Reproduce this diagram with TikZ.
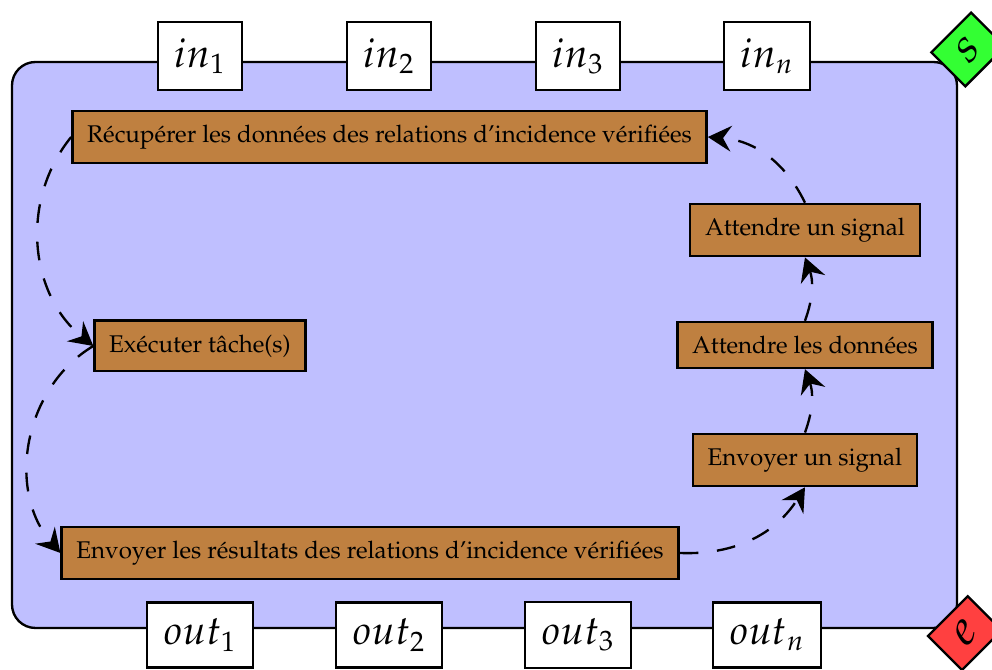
\documentclass[tikz,border=0pt]{standalone}
\usepackage[T1]{fontenc}
\usepackage{mathpazo}
\usepackage{tikz}
\usetikzlibrary{arrows.meta,positioning}

\begin{document}
\begin{tikzpicture}[>={Stealth[length=10pt,width=11pt,inset=3.5pt]},node distance=0.95cm,
	tache/.style={draw,line width=1pt,fill=brown,inner xsep=6.3pt,inner ysep=6pt,font=\fontsize{10.3}{12}\selectfont},
	port/.style={draw,line width=1pt,fill=white,inner sep=7pt,font=\LARGE},
	etat/.style={draw,line width=1pt,rotate=45,minimum width=24pt,minimum height=20.5pt,inner sep=0pt,font=\huge},
	flot/.style={->,line width=1pt,dash pattern=on 8pt off 8pt}]
		\useasboundingbox (0,0) rectangle (14.88,10.05);
		\node[draw,line width=1pt,fill=blue!25,rounded corners=10pt,minimum width=14.175cm,minimum height=8.49cm] (cadre) at (7.2675,4.875) {};
		\node[etat,fill=green!80] (s) at ([shift={(0.15,0.17)}]cadre.north east) {$s$};
		\node[etat,fill=red!75] (e) at ([shift={(0.1,-0.06)}]cadre.south east) {$e$};
		% entrees
		\node[port] (in_1) at (3.0,9.21) {$in_1$};
		\node[port] (in_2) at (5.835,9.21) {$in_2$};
		\node[port] (in_3) at (8.67,9.21) {$in_3$};
		\node[port] (in_n) at (11.505,9.21) {$in_n$};
		% sorties
		\node[port] (out_1) at (3.0,0.525) {$out_1$};
		\node[port] (out_2) at (5.835,0.525) {$out_2$};
		\node[port] (out_3) at (8.67,0.525) {$out_3$};
		\node[port] (out_n) at (11.505,0.525) {$out_n$};
		% taches
		\node[tache] (recup) at (5.8425,7.995) {R\'ecup\'erer les donn\'ees des relations d'incidence v\'erifi\'ees};
		\node[tache] (exec) at (3.0,4.86) {Ex\'ecuter t\^ache(s)};
		\node[tache] (envres) at (5.55,1.755) {Envoyer les r\'esultats des relations d'incidence v\'erifi\'ees};
		\node[tache] (attdon) at (12.075,4.875) {Attendre les donn\'ees};
		\node[tache] [above=of attdon] (attsig) {Attendre un signal};
		\node[tache] [below=of attdon] (envsig) {Envoyer un signal};
		\path[flot]
			(recup.west) edge [bend right=45] (exec.west)
			(exec.west) edge [bend right=50] (envres.west)
			(envres.east) edge [bend right=30] (envsig.south)
			(envsig.north) edge [bend right=20] (attdon.south)
			(attdon.north) edge [bend right=20] (attsig.south)
			(attsig.north) edge [bend right=30] (recup.east);
	\end{tikzpicture}
\end{document}
